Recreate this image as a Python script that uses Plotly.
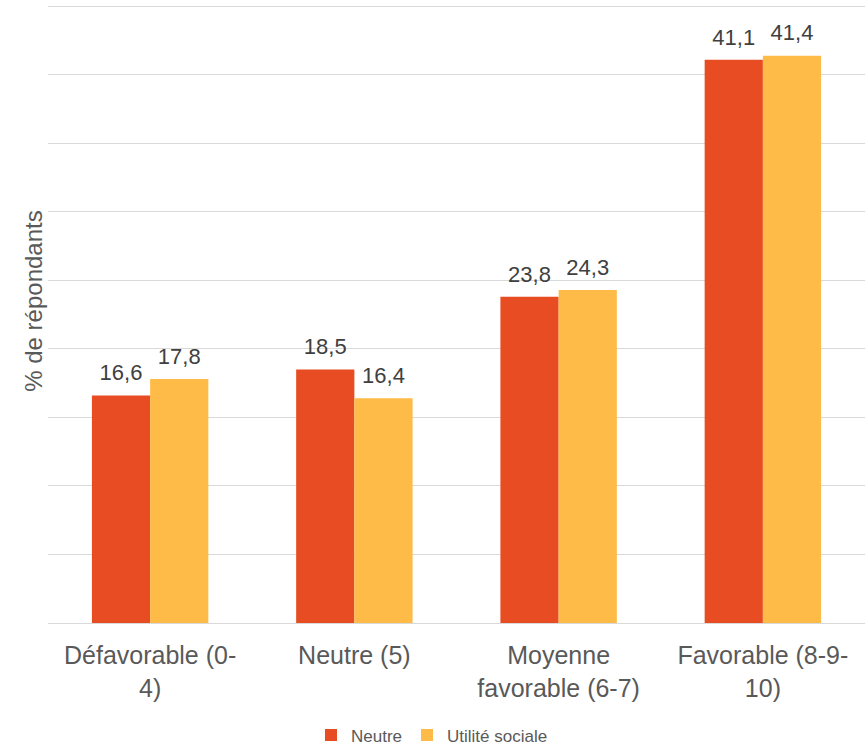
import plotly.graph_objects as go

categories = ["Défavorable (0-<br>4)", "Neutre (5)", "Moyenne<br>favorable (6-7)", "Favorable (8-9-<br>10)"]
neutre = [16.6, 18.5, 23.8, 41.1]
utilite = [17.8, 16.4, 24.3, 41.4]
series_names = ["Neutre", "Utilité sociale"]
colors = ["#E84C22", "#FFBB47"]
y_title = "% de répondants"

def fr(v):
    return f"{v:.1f}".replace(".", ",")

fig = go.Figure()
for name, vals, col in zip(series_names, [neutre, utilite], colors):
    fig.add_trace(go.Bar(
        x=categories, y=vals, name=name, marker_color=col,
        marker_line_width=0,
    ))
for name, vals in zip(series_names, [neutre, utilite]):
    fig.add_trace(go.Scatter(
        x=categories, y=vals, mode="markers+text", showlegend=False, hoverinfo="skip",
        marker=dict(size=14, opacity=0),
        text=[fr(v) for v in vals], textposition="top center",
        textfont=dict(size=22, color="#404040", family="Liberation Sans, Arial"),
        cliponaxis=False,
    ))

fig.add_annotation(
    text=y_title, textangle=-90, xref="paper", yref="paper",
    x=-0.017, y=0.52, xanchor="center", yanchor="middle", showarrow=False,
    font=dict(size=24, color="#595959", family="Liberation Sans, Arial"),
)

fig.update_layout(
    width=868, height=746,
    barmode="group", bargap=0.43, bargroupgap=0,
    scattermode="group", scattergap=0.43,
    plot_bgcolor="white", paper_bgcolor="white",
    margin=dict(l=48, r=3, t=5, b=123, autoexpand=False),
    font=dict(family="Liberation Sans, Arial", color="#595959"),
    legend=dict(orientation="h", x=0.47, xanchor="center", y=-0.182, yanchor="middle",
                font=dict(size=17, color="#595959"), itemwidth=30, traceorder="normal"),
    xaxis=dict(tickfont=dict(size=25, color="#595959"), showline=True, linecolor="#d9d9d9",
               linewidth=1, ticks="", automargin=False, ticklabelstandoff=10),
    yaxis=dict(range=[0, 45.1], tickvals=[0, 5, 10, 15, 20, 25, 30, 35, 40, 45],
               showticklabels=False, showgrid=True,
               gridcolor="#d9d9d9", gridwidth=1, zeroline=False, automargin=False),
)
fig.write_html("out.html", config={"displayModeBar": False},
               post_script="document.body.style.margin='0';")
